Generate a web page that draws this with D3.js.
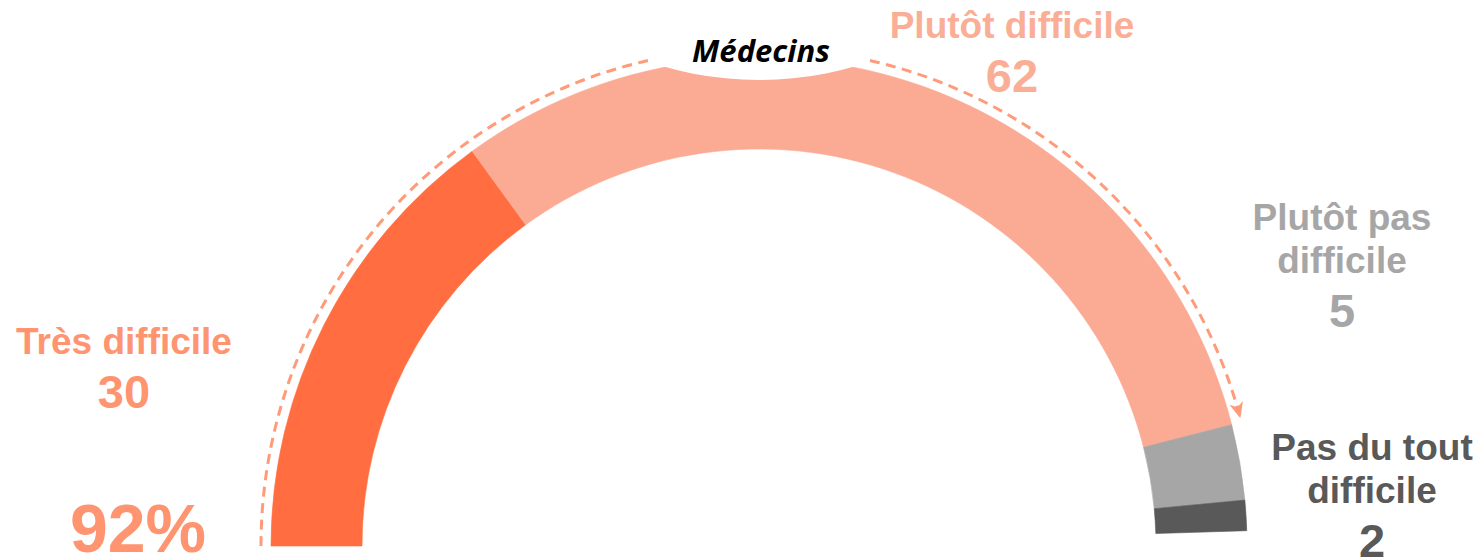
<!DOCTYPE html>
<html><head><meta charset="utf-8">
<script src="https://cdn.jsdelivr.net/npm/d3@7"></script>
<style>body{margin:0;background:#fff;overflow:hidden} svg{display:block}</style>
</head><body>
<svg id="chart" width="1478" height="560"></svg>
<script>
// ---- data ----
const categories = ["Très difficile", "Plutôt difficile", "Plutôt pas difficile", "Pas du tout difficile"];
const values = [30, 62, 5, 2];
const labelLines = [["Très difficile"], ["Plutôt difficile"], ["Plutôt pas", "difficile"], ["Pas du tout", "difficile"]];
const totalLabel = "92%";
const groupLabel = "Médecins";
const scaleMax = 100;
const highlightCount = 2; // first two categories covered by the dashed arrow

// ---- styles / layout ----
const segmentColors = ["#FF6D40", "#FBAA93", "#A6A6A6", "#595959"];
const labelColors = ["#FF9470", "#FBAE96", "#A6A6A6", "#595959"];
const labelPos = [[124, 354], [1012, 38], [1342, 230], [1372, 460]];
const cx = 759, cy = 546, rIn = 397, rOut = 488, rDash = 498;

const svg = d3.select("#chart");
const angle = d3.scaleLinear().domain([0, scaleMax]).range([-Math.PI / 2, Math.PI / 2]);

let cum = 0;
const segs = values.map((v, i) => { const s = { i, start: cum, end: cum + v, v }; cum += v; return s; });

const arc = d3.arc().innerRadius(rIn).outerRadius(rOut)
  .startAngle(d => angle(d.start)).endAngle(d => angle(d.end));

const g = svg.append("g").attr("transform", `translate(${cx},${cy})`);
g.selectAll("path.seg").data(segs).join("path")
  .attr("class", "seg").attr("d", arc)
  .attr("fill", d => segmentColors[d.i])
  .attr("stroke", d => segmentColors[d.i]).attr("stroke-width", 0.6);

// white notch at the top for the group label
const notchR = 343;
g.append("circle").attr("cx", 0).attr("cy", -(rOut - 21) - notchR + 1).attr("r", notchR).attr("fill", "#fff");

// dashed arrow arc spanning the highlighted categories
const hiEnd = d3.sum(values.slice(0, highlightCount));
const gapHalf = 12.3 * Math.PI / 180;
const col = "#FF9B78";
const defs = svg.append("defs");
defs.append("marker").attr("id", "arrow")
  .attr("viewBox", "0 -9 18 18").attr("refX", 15).attr("refY", 0)
  .attr("markerWidth", 18).attr("markerHeight", 18)
  .attr("markerUnits", "userSpaceOnUse").attr("orient", "auto")
  .append("path").attr("d", "M0,-7L16,0L0,7L4.5,0Z").attr("fill", col);

function dashed(a0, a1, marker) {
  const p = d3.path();
  p.moveTo(rDash * Math.sin(a0), -rDash * Math.cos(a0));
  p.arc(0, 0, rDash, a0 - Math.PI / 2, a1 - Math.PI / 2, false);
  const el = g.append("path").attr("d", p.toString()).attr("fill", "none")
    .attr("stroke", col).attr("stroke-width", 3).attr("stroke-dasharray", "10,6.5");
  if (marker) el.attr("marker-end", "url(#arrow)");
}
dashed(angle(0), -gapHalf, false);
dashed(gapHalf + 0.01, angle(hiEnd) - 0.01, true);

// group label
svg.append("text").attr("x", cx + 2).attr("y", 62).attr("text-anchor", "middle")
  .attr("font-family", "'Open Sans', sans-serif").attr("font-style", "italic")
  .attr("font-weight", 700).attr("font-size", 31).attr("fill", "#000").text(groupLabel);

// category labels
const lab = svg.append("g").attr("font-family", "'Liberation Sans', Arial, sans-serif").attr("font-weight", 700).attr("text-anchor", "middle");
labelLines.forEach((lines, i) => {
  const [x, y] = labelPos[i];
  lines.forEach((t, k) => {
    lab.append("text").attr("x", x).attr("y", y + k * 42.5).attr("font-size", 37)
      .attr("fill", labelColors[i]).text(t);
  });
  lab.append("text").attr("x", x).attr("y", y + (lines.length - 1) * 42.5 + 54)
    .attr("font-size", 47).attr("fill", labelColors[i]).text(values[i]);
});

lab.append("text").attr("x", 138).attr("y", 552).attr("font-size", 68)
  .attr("fill", labelColors[0]).text(totalLabel);
</script>
</body></html>
